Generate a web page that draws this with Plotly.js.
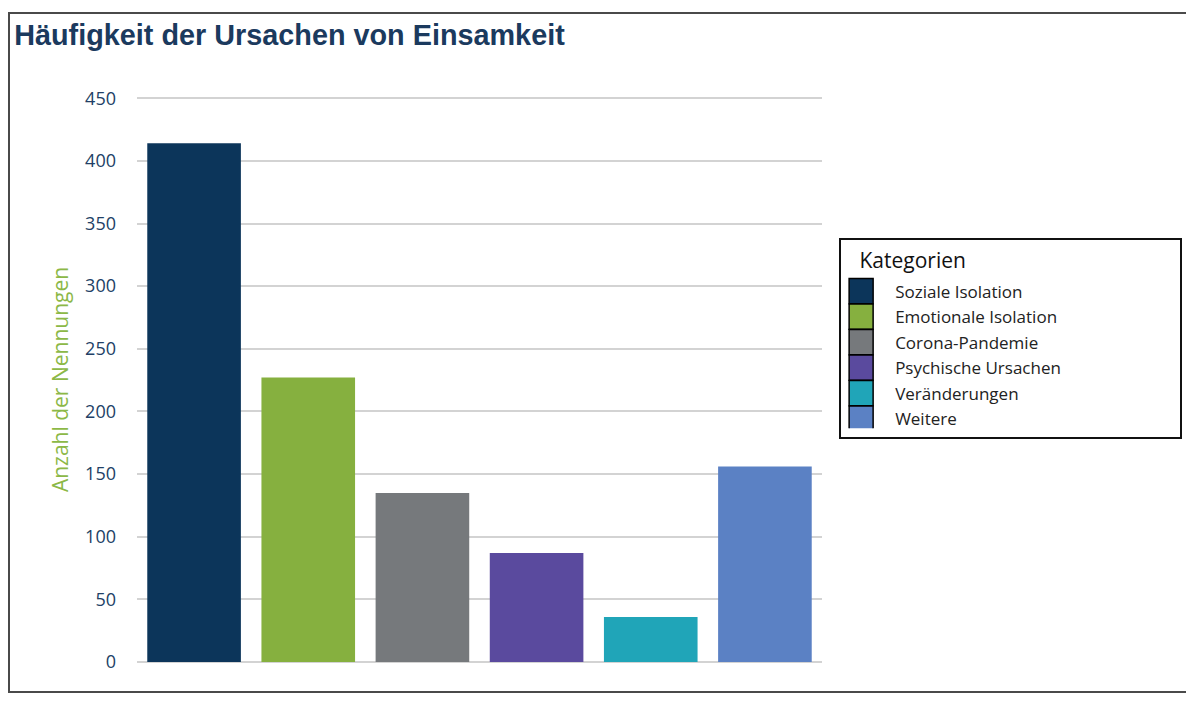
<!DOCTYPE html>
<html>
<head>
<meta charset="utf-8">
<script src="https://cdn.plot.ly/plotly-3.0.1.min.js"></script>
<style>
    body { margin: 0; background: #fff; overflow: hidden; }
    #wrap { position: relative; width: 1186px; height: 706px; overflow: hidden; }
    #chart { width: 1186px; height: 706px; }
    #frame { position: absolute; left: 8px; top: 12px; width: 1200px; height: 677px;
             border: 2px solid #4a4a4a; border-right: none; pointer-events: none; }
</style>
</head>
<body>
<div id="wrap">
    <div id="chart"></div>
    <div id="frame"></div>
</div>
<script>
var categories = ["Soziale Isolation", "Emotionale Isolation", "Corona-Pandemie",
                  "Psychische Ursachen", "Veränderungen", "Weitere"];
var counts = [414, 227, 135, 87, 36, 156];
var barColors = ["#0c355a", "#86b03f", "#76797c", "#5a4a9e", "#20a5b8", "#5b81c4"];
var yTicks = [0, 50, 100, 150, 200, 250, 300, 350, 400, 450];

// one trace per category so each gets its own legend entry
var data = categories.map(function (name, i) {
    return {
        type: 'bar',
        name: name,
        x: [name],
        y: [counts[i]],
        marker: { color: barColors[i], line: { color: '#000', width: 0 } },
        hoverinfo: 'x+y'
    };
});

var layout = {
    width: 1186,
    height: 706,
    paper_bgcolor: '#fff',
    plot_bgcolor: '#fff',
    barmode: 'overlay',
    bargap: 0.18,
    margin: { l: 137, r: 364, t: 97, b: 44 },
    title: {
        text: '<b>Häufigkeit der Ursachen von Einsamkeit</b>',
        font: { family: 'Liberation Sans, Arial, sans-serif', size: 28.8, color: '#1b3a5e' },
        xref: 'container', yref: 'container',
        x: 0.012, xanchor: 'left',
        y: 0.951, yanchor: 'middle'
    },
    xaxis: {
        categoryorder: 'array',
        categoryarray: categories,
        showticklabels: false,
        showgrid: false,
        showline: false,
        ticks: '',
        range: [-0.5, 5.5]
    },
    yaxis: {
        range: [0, 451],
        tickvals: yTicks,
        ticks: '',
        ticklabelstandoff: 20,
        showline: false,
        gridcolor: '#d3d3d3',
        gridwidth: 2,
        zeroline: true,
        zerolinecolor: '#d3d3d3',
        zerolinewidth: 2,
        tickfont: { family: 'Open Sans, sans-serif', size: 18, color: '#223f66' },
        title: {
            text: 'Anzahl der Nennungen',
            standoff: 10,
            font: { family: 'Open Sans, sans-serif', size: 21, color: '#8cb847' }
        }
    },
    showlegend: true,
    legend: {
        x: 1.025, xanchor: 'left',
        y: 0.75, yanchor: 'top',
        bgcolor: '#fff',
        bordercolor: '#111',
        borderwidth: 2,
        itemwidth: 44,
        font: { family: 'Open Sans, sans-serif', size: 17, color: '#222' },
        title: {
            text: '&nbsp;&nbsp;&nbsp;Kategorien',
            font: { family: 'Open Sans, sans-serif', size: 21, color: '#111' }
        },
        traceorder: 'normal'
    }
};

var config = { responsive: false, displayModeBar: false };

Plotly.newPlot('chart', data, layout, config).then(function () {
    // bigger outlined swatches, a bit more room under the title, wider box
    document.querySelectorAll('.legend .legendpoints path').forEach(function (p) {
        p.setAttribute('d', 'M5,12.7H-19V-12.7H5Z');
        p.style.stroke = '#000';
        p.style.strokeWidth = '1.5px';
    });
    document.querySelectorAll('.legend g.traces').forEach(function (g, i) {
        var m = /translate\(([-\d.]+),\s*([-\d.]+)\)/.exec(g.getAttribute('transform') || '');
        if (m) {
            var ty = parseFloat(m[2]) + 6 + i * 0.4;
            g.setAttribute('transform', 'translate(' + m[1] + ',' + ty + ')');
        }
    });
    var bg = document.querySelector('.legend rect.bg');
    if (bg) {
        bg.setAttribute('width', 341);
        bg.setAttribute('height', 199);
    }
});
</script>
</body>
</html>
